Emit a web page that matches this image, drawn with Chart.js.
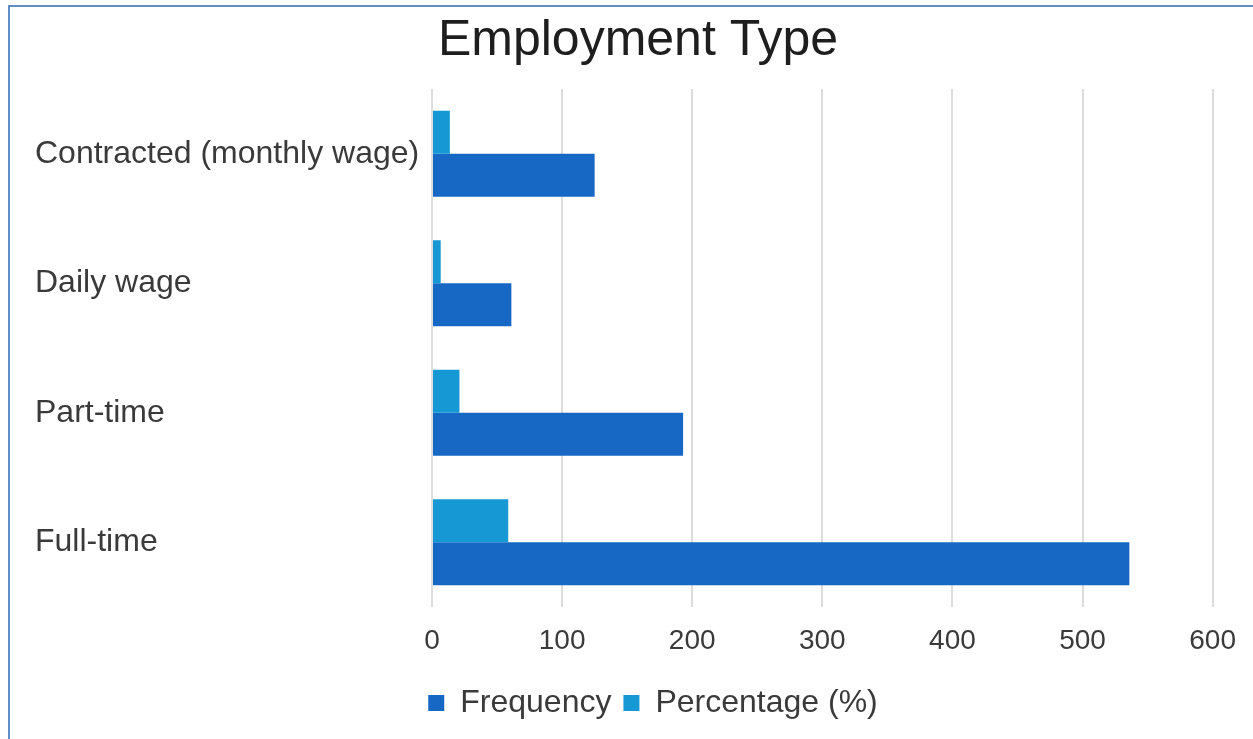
<!DOCTYPE html>
<html>
<head>
<meta charset="utf-8">
<script src="https://cdn.jsdelivr.net/npm/chart.js@4"></script>
<style>
  body { margin: 0; background: #fff; }
  #frame {
    position: absolute; left: 8px; top: 5px; width: 1300px; height: 800px;
    border-top: 2px solid #5f8fc6; border-left: 2px solid #5f8fc6;
  }
  #wrap { position: absolute; left: 10px; top: 7px; width: 1243px; height: 732px; }
</style>
</head>
<body>
<div id="frame"></div>
<div id="wrap"><canvas id="chart"></canvas></div>
<script>
const categories = ['Contracted (monthly wage)', 'Daily wage', 'Part-time', 'Full-time'];
const frequency = [125, 61, 193, 536];
const percentage = [13.7, 6.7, 21.1, 58.6];
const xTicks = [0, 100, 200, 300, 400, 500, 600];

const textColor = '#3a3a3a';
const font = 'Liberation Sans, Arial';

// nudge the legend a little to the right, as in the original picture
const legendShift = {
  id: 'legendShift',
  afterLayout(chart) {
    chart.legend.left += 15;
    chart.legend.right += 15;
  }
};

let chart = new Chart(document.getElementById('chart'), {
  type: 'bar',
  data: {
    labels: categories,
    datasets: [
      {
        label: 'Percentage (%)',
        data: percentage,
        backgroundColor: '#1598d3',
        categoryPercentage: 0.665,
        barPercentage: 1.0,
        borderWidth: 0
      },
      {
        label: 'Frequency',
        data: frequency,
        backgroundColor: '#1767c4',
        categoryPercentage: 0.665,
        barPercentage: 1.0,
        borderWidth: 0
      }
    ]
  },
  plugins: [legendShift],
  options: {
    indexAxis: 'y',
    responsive: true,
    maintainAspectRatio: false,
    animation: false,
    layout: { padding: { left: 25, right: 12, top: 0, bottom: 10 } },
    scales: {
      x: {
        min: xTicks[0],
        max: xTicks[xTicks.length - 1],
        grid: { color: '#dcdcdc', lineWidth: 2, drawTicks: false },
        border: { display: false },
        afterBuildTicks: (scale) => { scale.ticks = xTicks.map(v => ({ value: v })); },
        afterFit: (scale) => { scale.height = 68; },
        ticks: {
          padding: 17,
          color: textColor,
          font: { family: font, size: 28 }
        }
      },
      y: {
        grid: { display: false },
        border: { display: false },
        afterFit: (scale) => { scale.width = 397; },
        ticks: {
          crossAlign: 'far',
          color: textColor,
          font: { family: font, size: 32 }
        }
      }
    },
    plugins: {
      title: {
        display: true,
        text: 'Employment Type',
        color: '#1e1e1e',
        font: { family: font, size: 50, weight: 'normal' },
        padding: { top: 4, bottom: 18 }
      },
      legend: {
        position: 'bottom',
        labels: {
          boxWidth: 16,
          boxHeight: 16,
          padding: 12,
          color: textColor,
          font: { family: font, size: 32 },
          sort: (a, b) => b.datasetIndex - a.datasetIndex
        }
      },
      tooltip: { enabled: false }
    }
  }
});
</script>
</body>
</html>
